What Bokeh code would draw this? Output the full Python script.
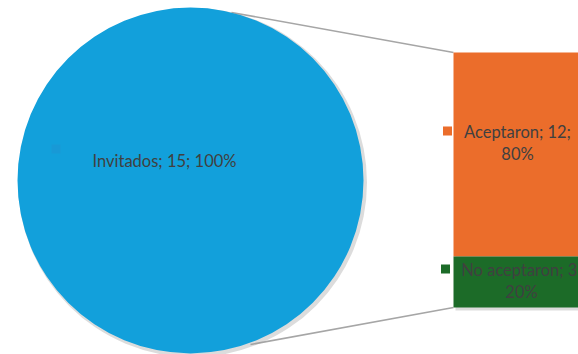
from bokeh.plotting import figure
from bokeh.models import Range1d, ColumnDataSource
from bokeh.core.properties import value
from bokeh.embed import file_html
from bokeh.resources import INLINE
import math

# --- data ---
main_name = "Invitados"
main_value = 15
sub_names = ["Aceptaron", "No aceptaron"]
sub_values = [12, 3]
main_color = "#12a0db"
sub_colors = ["#eb6d2b", "#1c6b28"]
text_color = "#404040"
font = value("Lato")
fsize = "16.5px"

W, H = 578, 354
p = figure(width=W, height=H, output_backend="svg", toolbar_location=None,
           x_range=Range1d(0, W), y_range=Range1d(H, 0), min_border=0,
           background_fill_color="white", border_fill_color="white")
p.axis.visible = False
p.grid.visible = False
p.outline_line_color = None

# --- pie (single 100% slice) ---
cx, cy, r = 190, 180, 173
total = main_value
frac = main_value / total
# connector lines (behind)
bar_left, bar_top, bar_h = 453, 52, 255
p.line([231, bar_left], [12, bar_top], line_color="#a6a6a6", line_width=1.6)
p.line([250, bar_left], [344, bar_top + bar_h], line_color="#a6a6a6", line_width=1.6)
# shadow
p.wedge(x=[cx + 2], y=[cy + 2], radius=r + 1.5, start_angle=0, end_angle=2 * math.pi * frac,
        fill_color="#9a9a9a", fill_alpha=0.35, line_color=None)
p.wedge(x=[cx], y=[cy], radius=r, start_angle=0, end_angle=2 * math.pi * frac,
        fill_color=main_color, line_color=None)

# --- stacked bar (sub pie) ---
sub_total = sum(sub_values)
tops, bottoms = [], []
acc = bar_top
for v in sub_values:
    h = v / sub_total * bar_h
    tops.append(acc)
    bottoms.append(acc + h)
    acc += h
# bar shadow
p.quad(left=[bar_left + 2], right=[W + 20], top=[bar_top + 2], bottom=[bar_top + bar_h + 3],
       fill_color="#9a9a9a", fill_alpha=0.35, line_color=None)
src = ColumnDataSource(dict(left=[bar_left] * len(sub_values), right=[W + 20] * len(sub_values),
                            top=tops, bottom=bottoms, color=sub_colors))
p.quad(left="left", right="right", top="top", bottom="bottom", fill_color="color",
       line_color=None, source=src)

# --- labels ---
p.rect(x=[55.5], y=[148.5], width=9, height=9, fill_color="#1899d6", line_color=None)
p.text(x=[92], y=[160], text=[f"{main_name}; {main_value}; {round(100 * main_value / total)}%"],
       text_font=font, text_font_size=fsize, text_color=text_color,
       text_align="left", text_baseline="middle")

sq_x = [447, 445]
sq_y = [130.5, 268.5]
lab_x = [517, 521]
for i, (n, v) in enumerate(zip(sub_names, sub_values)):
    pct = round(100 * v / sub_total)
    p.rect(x=[sq_x[i]], y=[sq_y[i]], width=9, height=9, fill_color=sub_colors[i], line_color=None)
    y1 = sq_y[i] + 1
    p.text(x=[lab_x[i]], y=[y1], text=[f"{n}; {v};"], text_font=font, text_font_size=fsize,
           text_color=text_color, text_align="center", text_baseline="middle")
    p.text(x=[lab_x[i]], y=[y1 + 22], text=[f"{pct}%"], text_font=font, text_font_size=fsize,
           text_color=text_color, text_align="center", text_baseline="middle")

open("out.html", "w").write(file_html(p, INLINE))
